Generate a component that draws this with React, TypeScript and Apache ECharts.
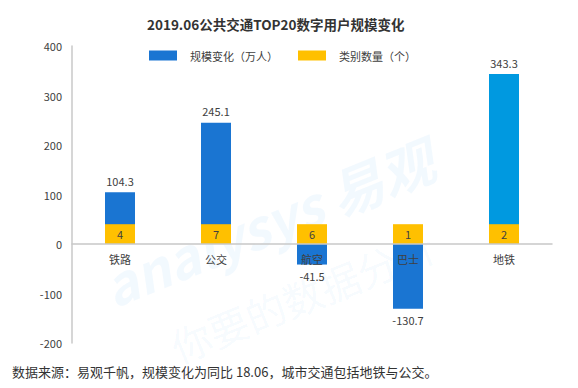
import React, { useEffect, useRef } from "react";
import * as echarts from "echarts";

const categories = ["铁路", "公交", "航空", "巴士", "地铁"];
const scaleChange = [104.3, 245.1, -41.5, -130.7, 343.3];
const categoryCounts = [4, 7, 6, 1, 2];
const yTicks = { min: -200, max: 400, interval: 100 };
const countBarDisplay = 40;

const FONT = '"Noto Sans CJK SC", "Noto Sans", sans-serif';

export default function App() {
  const ref = useRef<HTMLDivElement>(null);
  useEffect(() => {
    const chart = echarts.init(ref.current!, null, { renderer: "svg" });
    const gridTop = 46;
    const gridBottom = 45;
    const gridHeight = 388 - gridTop - gridBottom;
    const zeroOffset = (gridHeight * (0 - yTicks.min)) / (yTicks.max - yTicks.min);
    chart.setOption({
      animation: false,
      backgroundColor: "#ffffff",
      textStyle: { fontFamily: FONT },
      title: {
        text: "2019.06公共交通TOP20数字用户规模变化",
        left: 142,
        top: 12,
        textStyle: { fontSize: 13.5, fontWeight: "bold", color: "#333333", fontFamily: FONT },
      },
      legend: {
        left: 144,
        top: 45,
        itemWidth: 28,
        itemHeight: 10,
        itemGap: 20,
        icon: "rect",
        textStyle: { fontSize: 11, color: "#404040", padding: [0, 0, 0, 8] },
        data: ["规模变化（万人）", "类别数量（个）"],
      },
      grid: { left: 72, right: 26, top: gridTop, bottom: gridBottom },
      xAxis: {
        type: "category",
        data: categories,
        position: "bottom",
        offset: -zeroOffset,
        axisLine: { onZero: false, lineStyle: { color: "#c8c8c8", width: 1.5 } },
        axisTick: { show: false },
        axisLabel: { color: "#404040", fontSize: 11, margin: 9 },
        z: 10,
      },
      yAxis: {
        type: "value",
        min: yTicks.min,
        max: yTicks.max,
        interval: yTicks.interval,
        axisLine: { show: true, lineStyle: { color: "#c8c8c8", width: 1.5 } },
        axisTick: { show: false },
        splitLine: { show: false },
        axisLabel: { color: "#404040", fontSize: 11, margin: 10 },
      },
      graphic: [
        {
          type: "text",
          x: 95,
          y: 262,
          rotation: (22 * Math.PI) / 180,
          style: { text: "analysys 易观", fontSize: 54, fontWeight: "bold", fontStyle: "italic", fill: "rgba(0,140,230,0.05)", fontFamily: FONT },
          z: 0,
          silent: true,
        },
        {
          type: "text",
          x: 165,
          y: 330,
          rotation: (22 * Math.PI) / 180,
          style: { text: "你要的数据分析", fontSize: 40, fill: "rgba(0,140,230,0.05)", fontFamily: FONT },
          z: 0,
          silent: true,
        },
      ],
      series: [
        {
          name: "规模变化（万人）",
          type: "bar",
          barWidth: 30,
          barGap: "-100%",
          itemStyle: { color: "#1a75d2" },
          data: scaleChange.map((v, i) => ({
            value: v,
            itemStyle: { color: i === scaleChange.length - 1 ? "#0099e0" : "#1a75d2" },
            label: {
              show: true,
              position: v >= 0 ? "top" : "bottom",
              distance: 6,
              color: "#404040",
              fontSize: 11,
            },
          })),
        },
        {
          name: "类别数量（个）",
          type: "bar",
          barWidth: 30,
          barGap: "-100%",
          itemStyle: { color: "#ffc000" },
          data: categoryCounts.map((c) => ({
            value: countBarDisplay,
            label: {
              show: true,
              position: "inside",
              formatter: String(c),
              color: "#404040",
              fontSize: 11,
            },
          })),
        },
      ],
    });
    return () => chart.dispose();
  }, []);
  return (
    <div style={{ position: "relative", width: 578, height: 388, margin: -8, background: "#fff" }}>
      <div ref={ref} style={{ width: 578, height: 388 }} />
      <div
        style={{
          position: "absolute",
          left: 12,
          top: 362,
          fontSize: 13,
          color: "#333",
          fontFamily: FONT,
          whiteSpace: "nowrap",
        }}
      >
        数据来源：易观千帆，规模变化为同比 18.06，城市交通包括地铁与公交。
      </div>
    </div>
  );
}
